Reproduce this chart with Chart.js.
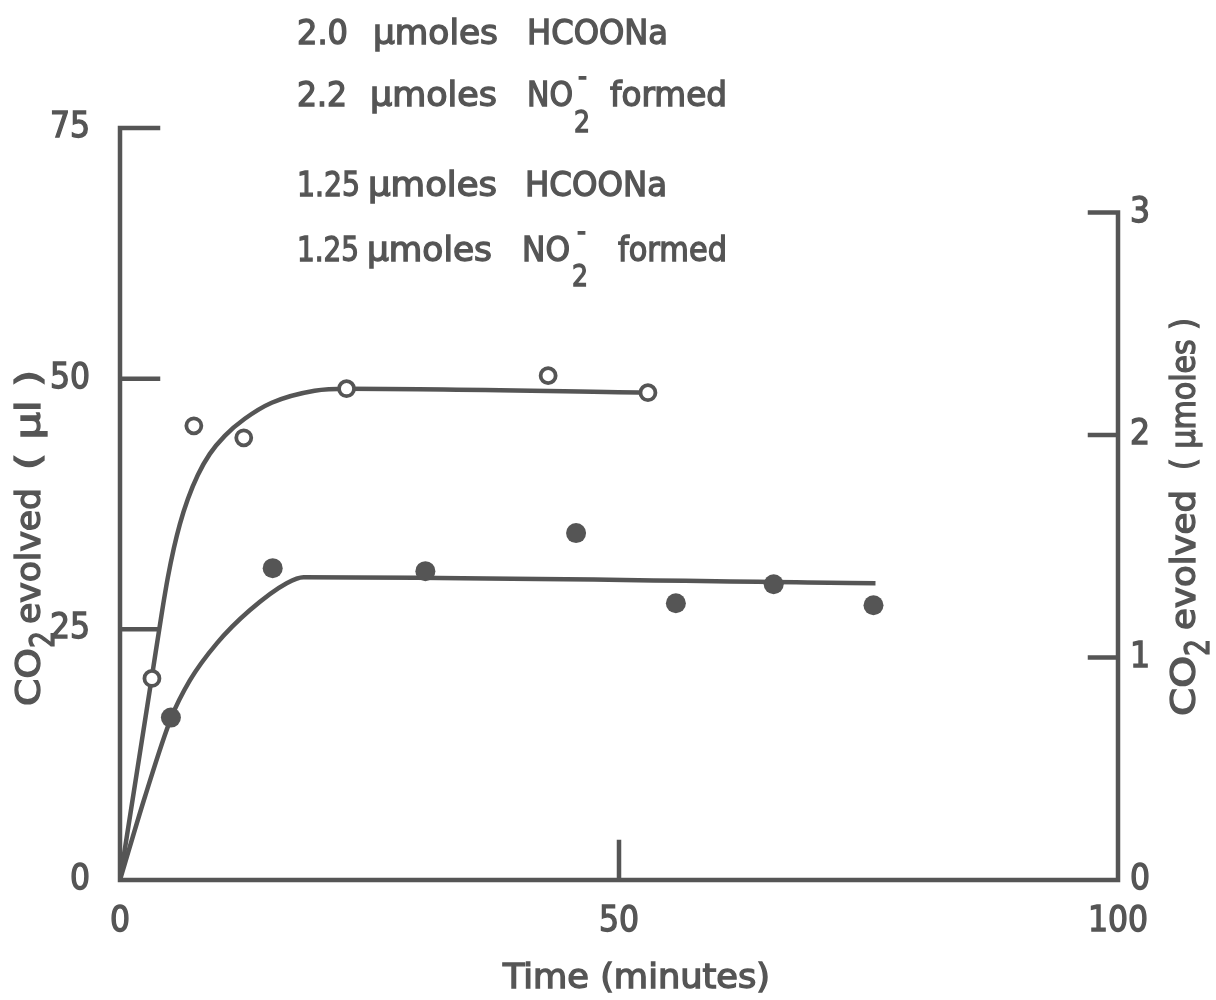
<!DOCTYPE html>
<html>
<head>
<meta charset="utf-8">
<script src="https://cdn.jsdelivr.net/npm/chart.js@4.4.1/dist/chart.umd.min.js"></script>
<style>
  body { margin: 0; background: #fff; }
  #wrap { width: 1216px; height: 1000px; }
</style>
</head>
<body>
<div id="wrap"><canvas id="co2Chart"></canvas></div>
<script>
// measured points: 2.0 umoles formate (open) and 1.25 umoles formate (filled)
const openTime = [3.2, 7.4, 12.4, 22.7, 42.9, 52.9]
const openCO2 = [20.1, 45.3, 44.1, 49.0, 50.3, 48.6]
const filledTime = [5.1, 15.3, 30.6, 45.7, 55.7, 65.5, 75.5]
const filledCO2 = [16.2, 31.1, 30.8, 34.6, 27.6, 29.5, 27.4]

// hand-drawn fitted curves
const upperCurveTime = [0, 3.2, 4.2, 4.8, 5.4, 6.0, 6.8, 7.8, 9.0, 10.5, 12.5, 15.2, 19.5, 22.8, 52.9]
const upperCurveCO2 = [0, 20.3, 26.7, 30.2, 33.1, 35.5, 38.0, 40.4, 42.5, 44.3, 46.0, 47.6, 48.8, 49.0, 48.6]
const lowerCurveTime = [0, 2.5, 5.1, 7.0, 9.7, 13.0, 16.7, 18.4, 75.7]
const lowerCurveCO2 = [0, 8.3, 16.1, 19.9, 23.6, 26.9, 29.6, 30.2, 29.6]

// axis ticks
const timeTicks = [0, 50, 100]
const ulTicks = [0, 25, 50, 75]
const umolTicks = [0, 1, 2, 3]
const ulInnerTicks = [25, 50, 75]
const timeInnerTicks = [50]
const umolInnerTicks = [1, 2, 3]

const INK = '#555555'
const FONT = "'DejaVu Sans Condensed', 'DejaVu Sans', sans-serif"

function pairs(xs, ys) {
	return xs.map((x, i) => ({ x: x, y: ys[i] }))
}

// text pieces: [text, offset along line, width, shift across line, font size]
const noteLines = [
	{ x: 0, y: 44, parts: [['2.0', 297, 51], ['μmoles', 373, 125], ['HCOONa', 527, 141]] },
	{ x: 0, y: 106, parts: [['2.2', 297, 50], ['μmoles', 370, 127], ['NO', 527, 46], ['2', 574, 16, 26, 30], ['-', 578, 9, -20, 30], ['formed', 610, 117]] },
	{ x: 0, y: 196, parts: [['1.25', 297, 63], ['μmoles', 368, 129], ['HCOONa', 525, 142]] },
	{ x: 0, y: 261, parts: [['1.25', 297, 62], ['μmoles', 367, 125], ['NO', 522, 48], ['2', 572, 16, 25, 30], ['-', 577, 9, -20, 30], ['formed', 618, 109]] },
]

function drawRun(ctx, x, y, rot, parts) {
	for (const p of parts) {
		let [text, start, width, dy, size] = p
		ctx.save()
		ctx.translate(x, y)
		ctx.rotate(rot)
		ctx.translate(start, dy || 0)
		ctx.font = (size || 34) + 'px ' + FONT
		let w0 = ctx.measureText(text).width
		ctx.scale(width / w0, 1)
		ctx.fillText(text, 0, 0)
		// a thin outline thickens the pen stroke a little
		ctx.strokeText(text, 0, 0)
		ctx.restore()
	}
}

// axes are drawn by hand: ticks point inward and the right axis stops at 3
const handAxes = {
	id: 'handAxes',
	beforeDatasetsDraw(chart) {
		let ctx = chart.ctx
		let xs = chart.scales.x, yl = chart.scales.y, yr = chart.scales.yR
		let x0 = xs.getPixelForValue(0), x1 = xs.getPixelForValue(100)
		let y0 = yl.getPixelForValue(0)
		ctx.save()
		ctx.strokeStyle = INK
		ctx.lineWidth = 4.5
		ctx.lineCap = 'square'
		ctx.beginPath()
		// left axis
		ctx.moveTo(x0, yl.getPixelForValue(75))
		ctx.lineTo(x0, y0)
		// time axis
		ctx.lineTo(x1, y0)
		// right axis
		ctx.lineTo(x1, yr.getPixelForValue(3))
		for (let v of ulInnerTicks) {
			let py = yl.getPixelForValue(v)
			ctx.moveTo(x0, py)
			ctx.lineTo(x0 + 38, py)
		}
		for (let v of timeInnerTicks) {
			let px = xs.getPixelForValue(v)
			ctx.moveTo(px, y0)
			ctx.lineTo(px, y0 - 38)
		}
		for (let v of umolInnerTicks) {
			let py = yr.getPixelForValue(v)
			ctx.moveTo(x1, py)
			ctx.lineTo(x1 - 28, py)
		}
		ctx.stroke()
		ctx.restore()
	},
	afterDraw(chart) {
		let ctx = chart.ctx
		ctx.save()
		ctx.fillStyle = INK
		ctx.strokeStyle = INK
		ctx.lineWidth = 1.3
		ctx.textBaseline = 'alphabetic'
		for (let line of noteLines) {
			drawRun(ctx, line.x, line.y, 0, line.parts)
		}
		// axis titles
		drawRun(ctx, 0, 988, 0, [['Time (minutes)', 503, 267]])
		drawRun(ctx, 40, 706, -Math.PI / 2, [['CO', 0, 58], ['2', 58, 17, 14], ['evolved', 82, 136], ['( μl )', 236, 100]])
		drawRun(ctx, 1195, 716, -Math.PI / 2, [['CO', 0, 60], ['2', 60, 17, 14], ['evolved', 86, 140], ['( μmoles )', 246, 152]])
		ctx.restore()
	},
}

function tickList(values) {
	return function (scale) {
		scale.ticks = values.map((v) => ({ value: v }))
	}
}

const tickStyle = {
	color: INK,
	font: { family: FONT, size: 35 },
	textStrokeColor: INK,
	textStrokeWidth: 1.3,
}

let ctx = document.getElementById('co2Chart').getContext('2d')
let co2Chart = new Chart(ctx, {
	type: 'scatter',
	data: {
		datasets: [
			{
				data: pairs(openTime, openCO2),
				pointRadius: 7.5,
				pointBorderWidth: 3.8,
				pointBackgroundColor: '#ffffff',
				pointBorderColor: INK,
				order: 0,
			},
			{
				data: pairs(filledTime, filledCO2),
				pointRadius: 10,
				pointBorderWidth: 0,
				pointBackgroundColor: INK,
				pointBorderColor: INK,
				order: 0,
			},
			{
				data: pairs(upperCurveTime, upperCurveCO2),
				showLine: true,
				pointRadius: 0,
				borderColor: INK,
				borderWidth: 4.5,
				cubicInterpolationMode: 'monotone',
				order: 1,
			},
			{
				data: pairs(lowerCurveTime, lowerCurveCO2),
				showLine: true,
				pointRadius: 0,
				borderColor: INK,
				borderWidth: 4.5,
				cubicInterpolationMode: 'monotone',
				order: 1,
			},
		],
	},
	options: {
		responsive: true,
		maintainAspectRatio: false,
		animation: false,
		layout: { padding: { top: 128, left: 0, right: 0, bottom: 0 } },
		plugins: { legend: { display: false }, tooltip: { enabled: false } },
		scales: {
			x: {
				type: 'linear',
				min: 0,
				max: 100,
				afterBuildTicks: tickList(timeTicks),
				afterFit: (s) => { s.height = 120 },
				grid: { display: false, drawTicks: false },
				border: { display: false },
				ticks: { ...tickStyle, padding: 21 },
			},
			y: {
				position: 'left',
				min: 0,
				max: 75,
				afterBuildTicks: tickList(ulTicks),
				afterFit: (s) => { s.width = 120 },
				grid: { display: false, drawTicks: false },
				border: { display: false },
				ticks: { ...tickStyle, padding: 30 },
			},
			yR: {
				position: 'right',
				min: 0,
				max: 3.38,
				afterBuildTicks: tickList(umolTicks),
				afterFit: (s) => { s.width = 98 },
				grid: { display: false, drawTicks: false },
				border: { display: false },
				ticks: { ...tickStyle, padding: 12 },
			},
		},
	},
	plugins: [handAxes],
})
</script>
</body>
</html>
